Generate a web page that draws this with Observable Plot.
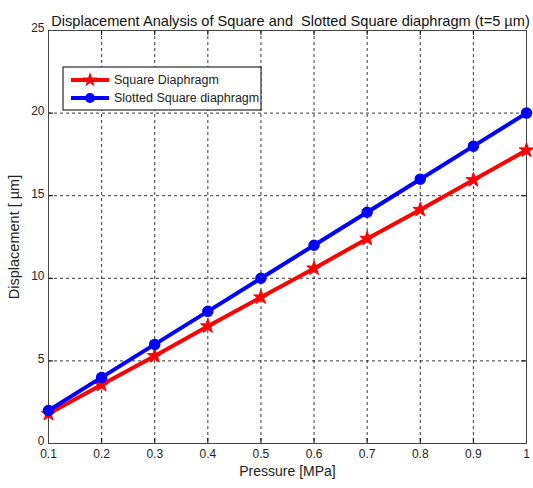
<!DOCTYPE html>
<html>
<head>
<meta charset="utf-8">
<script src="https://cdn.jsdelivr.net/npm/d3@7"></script>
<script src="https://cdn.jsdelivr.net/npm/@observablehq/plot@0.6"></script>
<style>
  html, body { margin: 0; padding: 0; background: #fff; }
</style>
</head>
<body>
<div id="chart"></div>
<script>
// Applied pressure (MPa)
const pressure = [0.1, 0.2, 0.3, 0.4, 0.5, 0.6, 0.7, 0.8, 0.9, 1.0];
// Centre displacement (µm) for each diaphragm design
const squareDisp  = [1.8, 3.55, 5.3, 7.1, 8.85, 10.6, 12.4, 14.15, 15.95, 17.75];
const slottedDisp = [2.0, 4.0, 6.0, 8.0, 10.0, 12.0, 14.0, 16.0, 18.0, 20.0];
const seriesNames = ["Square Diaphragm", "Slotted Square diaphragm"];
const yTicks = [0, 5, 10, 15, 20, 25];
const titleText = "Displacement Analysis of Square and  Slotted Square diaphragm (t=5 \u00b5m)";

const W = 533, H = 488;
const mL = 48, mR = 7, mT = 30, mB = 45;
const innerW = W - mL - mR, innerH = H - mT - mB;

const square = pressure.map((p, i) => ({p, d: squareDisp[i]}));
const slotted = pressure.map((p, i) => ({p, d: slottedDisp[i]}));

const font = "'Liberation Sans', Arial, sans-serif";
const fmtX = d => (d === 1 ? "1" : d3.format(".1f")(d));

const chart = Plot.plot({
  width: W, height: H,
  marginLeft: mL, marginRight: mR, marginTop: mT, marginBottom: mB,
  style: {fontFamily: font, fontSize: "12px", background: "#fff", color: "#222"},
  x: {domain: [0.1, 1], label: null},
  y: {domain: [0, 25], label: null},
  marks: [
    Plot.gridX(pressure, {stroke: "#000", strokeOpacity: 1, strokeWidth: 0.8, strokeDasharray: "3,3"}),
    Plot.gridY(yTicks, {stroke: "#000", strokeOpacity: 1, strokeWidth: 0.8, strokeDasharray: "3,3"}),
    // inward tick marks on all four sides
    Plot.tickX(pressure, {x: d => d, insetTop: innerH - 5, stroke: "#000"}),
    Plot.tickX(pressure, {x: d => d, insetBottom: innerH - 5, stroke: "#000"}),
    Plot.tickY(yTicks, {y: d => d, insetRight: innerW - 5, stroke: "#000"}),
    Plot.tickY(yTicks, {y: d => d, insetLeft: innerW - 5, stroke: "#000"}),
    Plot.axisX(pressure, {tickSize: 0, tickPadding: 6, tickFormat: fmtX, fill: "#222", fontSize: 12, label: null}),
    Plot.axisY(yTicks, {tickSize: 0, tickPadding: 4, dy: -2, fill: "#222", fontSize: 12, label: null}),
    Plot.frame({stroke: "#444", strokeWidth: 1}),
    Plot.line(square, {x: "p", y: "d", stroke: "#ff0000", strokeWidth: 4}),
    Plot.dot(square, {x: "p", y: "d", symbol: "star", r: 4.6, fill: "#ff0000", stroke: "#ff0000", strokeWidth: 1}),
    Plot.line(slotted, {x: "p", y: "d", stroke: "#0000ff", strokeWidth: 4}),
    Plot.dot(slotted, {x: "p", y: "d", symbol: "circle", r: 5, fill: "#0000ff", stroke: "#0000ff"}),
    Plot.text([titleText], {frameAnchor: "top", dy: -15, dx: 3, fontSize: 14.6, fill: "#111"}),
    Plot.text(["Pressure [MPa]"], {frameAnchor: "bottom", dy: 32, fontSize: 14, fill: "#222"}),
    Plot.text(["Displacement [ \u00b5m]"], {frameAnchor: "left", textAnchor: "middle", dx: -34, rotate: -90, fontSize: 14.5, fill: "#222"})
  ]
});

// Legend box in the upper-left corner of the axes
const svg = d3.select(chart);
const lg = svg.append("g").attr("transform", `translate(${mL + 15},${mT + 37})`);
lg.append("rect").attr("width", 198).attr("height", 43)
  .attr("fill", "#fff").attr("stroke", "#000").attr("stroke-width", 1);
const entries = [
  {name: seriesNames[0], color: "#ff0000", sym: d3.symbolStar, size: 70},
  {name: seriesNames[1], color: "#0000ff", sym: d3.symbolCircle, size: 80}
];
entries.forEach((e, i) => {
  const y = 13 + i * 18;
  lg.append("line").attr("x1", 8).attr("x2", 46).attr("y1", y).attr("y2", y)
    .attr("stroke", e.color).attr("stroke-width", 4);
  lg.append("path").attr("d", d3.symbol(e.sym, e.size)()).attr("transform", `translate(27,${y})`)
    .attr("fill", e.color);
  lg.append("text").attr("x", 51).attr("y", y).attr("dy", "0.35em")
    .attr("text-anchor", "start")
    .attr("font-family", font).attr("font-size", 12.5).attr("fill", "#222").text(e.name);
});

document.getElementById("chart").appendChild(chart);
</script>
</body>
</html>
